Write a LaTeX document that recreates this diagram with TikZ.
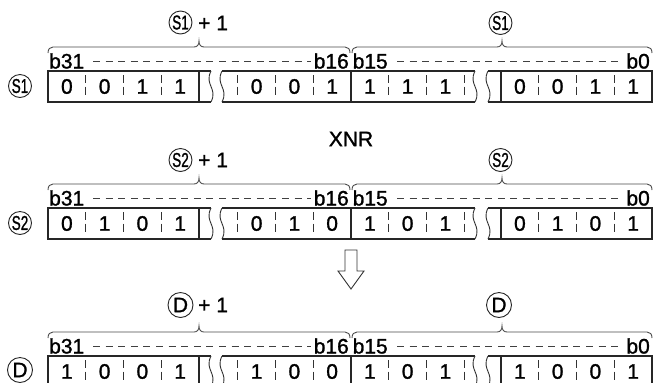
\documentclass[tikz,border=0pt]{standalone}
\usepackage{fontspec}
\setmainfont{Liberation Sans}[FakeBold=1.2]
\usepackage{graphicx}
\tikzset{
  boxline/.style={draw=black!85, line width=1.3bp},
  wave/.style={draw=black!80, line width=0.9bp},
  celldash/.style={draw=black!80, line width=0.9bp, dash pattern=on 8bp off 3.5bp},
  hdash/.style={draw=black!75, line width=0.9bp, dash pattern=on 7bp off 5.6bp},
  bracel/.style={draw=black!70, line width=0.9bp},
  txt/.style={font=\fontsize{21bp}{24bp}\selectfont, inner sep=0pt, text=black},
  circS/.style={draw=black!85, line width=0.9bp, circle, inner sep=0pt, minimum size=23bp, font=\fontsize{20bp}{22bp}\selectfont},
  circD/.style={draw=black!85, line width=0.9bp, circle, inner sep=0pt, minimum size=25bp, font=\fontsize{21bp}{24bp}\selectfont},
}
\newcommand\bbrace[3]{%
  \pgfmathsetmacro\bm{(#1+#2)/2}%
  \draw[bracel] (#1,#3+6) .. controls (#1,#3+2) and (#1+2,#3) .. (#1+5,#3) -- (\bm-5,#3)
    .. controls (\bm-1.5,#3) and (\bm,#3-2.5) .. (\bm,#3-6)
    .. controls (\bm,#3-2.5) and (\bm+1.5,#3) .. (\bm+5,#3) -- (#2-5,#3)
    .. controls (#2-2,#3) and (#2,#3+2) .. (#2,#3+6);
}
\newcommand\bitrow[6]{%
  \pgfmathsetmacro\rT{#1}%
  \pgfmathsetmacro\rB{#1+31}%
  \pgfmathsetmacro\rM{#1+15.5}%
  \pgfmathsetmacro\rL{#1-10}%
  \pgfmathsetmacro\rY{#1-24}%
  \draw[boxline] (211,\rT) -- (48,\rT) -- (48,\rB) -- (211,\rB);
  \draw[boxline] (199,\rT) -- (199,\rB);
  \draw[wave] (211,\rT) .. controls (204,\rT+14) and (218,\rB-14) .. (211,\rB);
  \draw[wave] (222,\rT) .. controls (215,\rT+14) and (229,\rB-14) .. (222,\rB);
  \draw[boxline] (222,\rT) -- (475,\rT);
  \draw[boxline] (222,\rB) -- (475,\rB);
  \draw[boxline] (351,\rT) -- (351,\rB);
  \draw[wave] (475,\rT) .. controls (468,\rT+14) and (482,\rB-14) .. (475,\rB);
  \draw[wave] (488,\rT) .. controls (481,\rT+14) and (495,\rB-14) .. (488,\rB);
  \draw[boxline] (488,\rT) -- (652,\rT) -- (652,\rB) -- (488,\rB);
  \draw[boxline] (501,\rT) -- (501,\rB);
  \foreach \x in {85.75,123.5,161.25,237.75,275.5,313.25,388.75,426.5,464.25,538.75,576.5,614.25}
    \draw[celldash] (\x,\rT+4) -- (\x,\rB-4);
  \foreach \d [count=\i] in {#3} \node[txt] (#2a\i) at ({48+37.75*(\i-0.5)},\rM) {\d};
  \foreach \d [count=\i] in {#4} \node[txt] (#2b\i) at ({237.75+37.75*(\i-0.5)},\rM) {\d};
  \foreach \d [count=\i] in {#5} \node[txt] (#2c\i) at ({351+37.75*(\i-0.5)},\rM) {\d};
  \foreach \d [count=\i] in {#6} \node[txt] (#2d\i) at ({501+37.75*(\i-0.5)},\rM) {\d};
  \node[txt, anchor=west] (#2bA) at (49,\rL) {b31};
  \node[txt, anchor=east] (#2bB) at (349,\rL) {b16};
  \node[txt, anchor=west] (#2bC) at (352.5,\rL) {b15};
  \node[txt, anchor=east] (#2bD) at (650,\rL) {b0};
  \draw[hdash] (93,\rL+0.5) -- (311,\rL+0.5);
  \draw[hdash] (397,\rL+0.5) -- (619,\rL+0.5);
  \bbrace{48}{350}{\rY}
  \bbrace{352}{652}{\rY}
}
\begin{document}
\begin{tikzpicture}[x=1bp,y=-1bp]
\useasboundingbox (0,0) rectangle (653,382);
\clip (0,0) rectangle (653,382);
\fill[white] (0,0) rectangle (653,382);

% row 1
\bitrow{71}{ra}{0,0,1,1}{0,0,1}{1,1,1}{0,0,1,1}
\node[circS] (raL) at (20,86) {\scalebox{0.68}[1]{S1}};
\node[circS] (raH) at (180.5,22.5) {\scalebox{0.68}[1]{S1}};
\node[txt, anchor=west] (raP) at (198,23) {+ 1};
\node[circS] (raR) at (500.5,23) {\scalebox{0.68}[1]{S1}};

% XNR
\node[txt] (xnr) at (351,139) {XNR};

% row 2
\bitrow{208}{rb}{0,1,0,1}{0,1,0}{1,0,1}{0,1,0,1}
\node[circS] (rbL) at (20,223) {\scalebox{0.68}[1]{S2}};
\node[circS] (rbH) at (180.5,160) {\scalebox{0.68}[1]{S2}};
\node[txt, anchor=west] (rbP) at (198,160) {+ 1};
\node[circS] (rbR) at (500.5,160) {\scalebox{0.68}[1]{S2}};

% arrow
\draw[draw=black!80, line width=0.9bp, fill=white]
  (345,250) -- (357,250) -- (357,271) -- (364,271) -- (351,289) -- (338,271) -- (345,271) -- cycle;

% row 3
\bitrow{356}{rc}{1,0,0,1}{1,0,0}{1,0,1}{1,0,0,1}
\node[circD] (rcL) at (20,370) {D};
\node[circD] (rcH) at (180.5,305) {D};
\node[txt, anchor=west] (rcP) at (198,305) {+ 1};
\node[circD] (rcR) at (499,305) {D};
\end{tikzpicture}
\end{document}
